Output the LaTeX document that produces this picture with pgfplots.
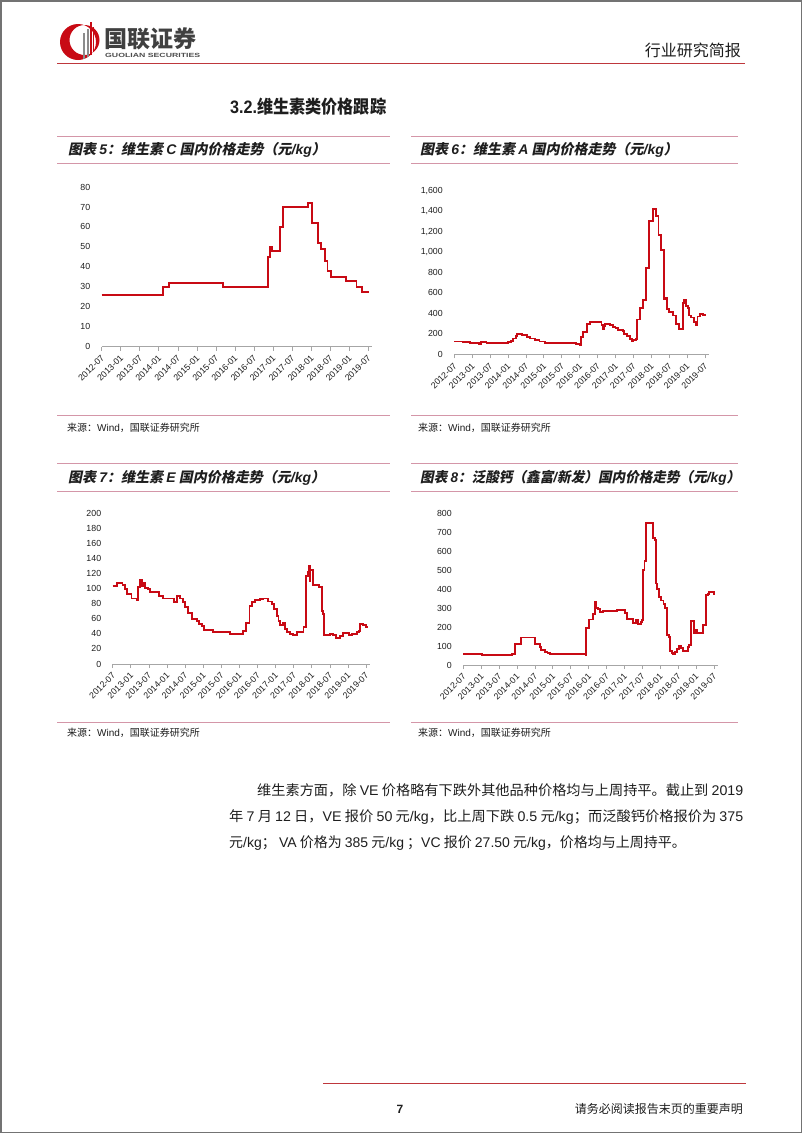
\documentclass[border=0pt]{standalone}
\usepackage{pgfplots}
\pgfplotsset{compat=1.18}
\usepackage{fontspec}
\usepackage{graphicx}
\setmainfont{Liberation Sans}
\newfontfamily\cjk{Noto Sans CJK SC}
\newfontfamily\cjkt[UprightFeatures={FakeSlant=0.2}, BoldFeatures={FakeSlant=0.2}]{Noto Sans CJK SC}
\newcommand\lat[1]{{\rmfamily #1}}
\newcommand\lati[1]{{\rmfamily\itshape #1}}
\definecolor{vred}{RGB}{200,10,20}
\definecolor{hred}{RGB}{190,55,60}
\definecolor{pinkline}{RGB}{212,150,168}
\definecolor{txt}{RGB}{30,30,30}

\pgfplotsset{
 vit/.style={
  scale only axis, anchor=south west,
  xmin=2012.5, xmax=2019.6, ymin=0, enlargelimits=false,
  axis x line*=bottom, axis y line*=left,
  y axis line style={draw=none},
  x axis line style={draw=black!35, line width=0.7pt},
  xtick={2012.5,2013,2013.5,2014,2014.5,2015,2015.5,2016,2016.5,2017,2017.5,2018,2018.5,2019,2019.5},
  xticklabels={2012-07,2013-01,2013-07,2014-01,2014-07,2015-01,2015-07,2016-01,2016-07,2017-01,2017-07,2018-01,2018-07,2019-01,2019-07},
  tick align=outside,
  xtick style={draw=black!35, line width=0.7pt},
  ytick style={draw=none},
  major tick length=4pt,
  tick label style={font=\fontsize{8.8}{10}\selectfont, text=txt},
  xticklabel style={rotate=45, anchor=east, inner sep=1pt, xshift=-2.5pt, yshift=-5pt},
  yticklabel style={xshift=-4pt, /pgf/number format/assume math mode=true, /pgf/number format/1000 sep={,}},
  scaled y ticks=false,
  clip=false,
 },
}

\begin{document}
\begin{tikzpicture}[x=1pt,y=1pt]
\useasboundingbox (0,0) rectangle (802,-1133);
\fill[white] (0,0) rectangle (802,-1133);
\draw[black!55, line width=1.5pt] (0.75,-0.75) rectangle (801.25,-1132.25);

% logo
\fill[vred, even odd rule] (78,-42) circle (18pt) (84.5,-40) circle (15pt);
\fill[black!45] (82.5,-59) rectangle (84.5,-33);
\fill[black!45] (86.5,-57) rectangle (88.5,-29);
\fill[vred] (90,-55) rectangle (91.6,-22);
\fill[vred] (93,-52) rectangle (94.4,-27);
\node[anchor=west, inner sep=0, font=\fontsize{23}{25}\selectfont\cjk\bfseries, text=black!75] at (104,-39) {国联证券};
\node[anchor=west, inner sep=0, font=\fontsize{6}{7}\selectfont\bfseries, text=black!70] at (105,-55) {\resizebox{95pt}{\height}{GUOLIAN SECURITIES}};
\node[anchor=east, inner sep=0, font=\fontsize{16}{18}\selectfont\cjk, text=txt] at (741,-50) {行业研究简报};
\draw[hred, line width=1.3pt] (57,-63.5) -- (745,-63.5);

% heading
\node[anchor=west, inner sep=0, font=\fontsize{18}{20}\selectfont\bfseries, text=txt] at (230,-107) {\resizebox{156pt}{\height}{3.2.{\cjk 维生素类价格跟踪}}};

% title frames
\foreach \xa/\xb in {57/390, 411/738} {
  \draw[pinkline, line width=0.9pt] (\xa,-136.7) -- (\xb,-136.7);
  \draw[pinkline, line width=0.9pt] (\xa,-163.3) -- (\xb,-163.3);
  \draw[pinkline, line width=0.9pt] (\xa,-415.7) -- (\xb,-415.7);
  \draw[pinkline, line width=0.9pt] (\xa,-463.3) -- (\xb,-463.3);
  \draw[pinkline, line width=0.9pt] (\xa,-491) -- (\xb,-491);
  \draw[pinkline, line width=0.9pt] (\xa,-722.3) -- (\xb,-722.3);
}
\node[anchor=west, inner sep=0, font=\fontsize{14}{16}\selectfont\cjkt\bfseries, text=txt] at (68,-150) {图表 \lati{5}：维生素 \lati{C} 国内价格走势（元\lati{/kg}）};
\node[anchor=west, inner sep=0, font=\fontsize{14}{16}\selectfont\cjkt\bfseries, text=txt] at (420,-150) {图表 \lati{6}：维生素 \lati{A} 国内价格走势（元\lati{/kg}）};
\node[anchor=west, inner sep=0, font=\fontsize{14}{16}\selectfont\cjkt\bfseries, text=txt] at (68,-478) {图表 \lati{7}：维生素 \lati{E} 国内价格走势（元\lati{/kg}）};
\node[anchor=west, inner sep=0, font=\fontsize{14}{16}\selectfont\cjkt\bfseries, text=txt] at (420,-478) {\resizebox{320pt}{\height}{图表 \lati{8}：泛酸钙（鑫富\lati{/}新发）国内价格走势（元\lati{/kg}）}};

\foreach \xs/\ys in {67/428, 418/428, 67/733, 418/733} {
  \node[anchor=west, inner sep=0, font=\fontsize{10}{12}\selectfont\cjk, text=txt] at (\xs,-\ys) {来源：\lat{Wind}，国联证券研究所};
}

% body text
\node[anchor=west, inner sep=0, font=\fontsize{14}{16}\selectfont\cjk, text=txt] at (257,-790) {\resizebox{486pt}{\height}{维生素方面，除 \lat{VE} 价格略有下跌外其他品种价格均与上周持平。截止到 \lat{2019}}};
\node[anchor=west, inner sep=0, font=\fontsize{14}{16}\selectfont\cjk, text=txt] at (229,-817) {\resizebox{514pt}{\height}{年 \lat{7} 月 \lat{12} 日，\lat{VE} 报价 \lat{50} 元\lat{/kg}，比上周下跌 \lat{0.5} 元\lat{/kg}；而泛酸钙价格报价为 \lat{375}}};
\node[anchor=west, inner sep=0, font=\fontsize{14}{16}\selectfont\cjk, text=txt] at (229,-843) {元\lat{/kg}；\ \lat{VA} 价格为 \lat{385} 元\lat{/kg} ；\lat{VC} 报价 \lat{27.50} 元\lat{/kg}，价格均与上周持平。};

% footer
\draw[hred, line width=1.3pt] (323,-1083.3) -- (746,-1083.3);
\node[inner sep=0, font=\fontsize{12}{14}\selectfont\bfseries, text=txt] at (400,-1109) {7};
\node[anchor=east, inner sep=0, font=\fontsize{12}{14}\selectfont\cjk, text=txt] at (743,-1109) {请务必阅读报告末页的重要声明};

% chart 5: VC
\begin{axis}[vit, at={(101.7pt,-346.7pt)}, width=270.4pt, height=159.7pt, ymax=80, ytick={0,10,...,80}]
\addplot[const plot, draw=vred, line width=1.9pt, mark=none] coordinates {(2012.50,26) (2014.10,30) (2014.27,32) (2015.68,30) (2016.86,45) (2016.92,50) (2016.98,48) (2017.18,60) (2017.27,70) (2017.92,72) (2018.02,62) (2018.19,52) (2018.27,49) (2018.36,43) (2018.43,38) (2018.52,35) (2018.91,33) (2019.19,30) (2019.34,27.5) (2019.53,27.5)};
\end{axis}

% chart 6: VA
\begin{axis}[vit, at={(454.3pt,-354.3pt)}, width=254.3pt, height=163.6pt, ymax=1600, ytick={0,200,...,1600}]
\addplot[const plot, draw=vred, line width=1.9pt, mark=none] coordinates {(2012.50,125) (2012.75,118) (2012.95,112) (2013.20,105) (2013.25,118) (2013.40,113) (2013.80,112) (2014.00,118) (2014.08,130) (2014.15,155) (2014.22,175) (2014.26,200) (2014.38,190) (2014.52,165) (2014.62,155) (2014.75,140) (2014.88,125) (2015.03,112) (2015.73,108) (2015.90,100) (2016.01,95) (2016.03,165) (2016.10,215) (2016.20,300) (2016.28,320) (2016.61,290) (2016.65,250) (2016.68,280) (2016.72,300) (2016.85,290) (2016.93,270) (2017.00,255) (2017.07,240) (2017.22,230) (2017.25,200) (2017.32,180) (2017.40,150) (2017.45,125) (2017.50,140) (2017.57,150) (2017.61,340) (2017.68,450) (2017.76,530) (2017.85,840) (2017.94,1300) (2018.04,1420) (2018.12,1350) (2018.20,1170) (2018.27,1020) (2018.36,540) (2018.39,550) (2018.43,440) (2018.50,410) (2018.61,380) (2018.69,300) (2018.77,250) (2018.88,500) (2018.92,530) (2018.97,470) (2019.02,450) (2019.06,380) (2019.12,360) (2019.19,320) (2019.25,290) (2019.29,370) (2019.36,390) (2019.45,385) (2019.53,385)};
\end{axis}

% chart 7: VE
\begin{axis}[vit, at={(112.7pt,-664pt)}, width=257pt, height=150.7pt, ymax=200, ytick={0,20,...,200}]
\addplot[const plot, draw=vred, line width=1.9pt, mark=none] coordinates {(2012.50,104) (2012.61,108) (2012.77,105) (2012.84,100) (2012.90,93) (2013.02,87) (2013.18,85) (2013.21,102) (2013.26,112) (2013.30,103) (2013.35,107) (2013.39,101) (2013.48,99) (2013.53,95) (2013.79,90) (2013.90,87) (2014.19,82) (2014.27,90) (2014.36,87) (2014.43,82) (2014.49,76) (2014.59,68) (2014.68,60) (2014.82,57) (2014.88,53) (2014.96,50) (2015.02,45) (2015.28,43) (2015.60,42) (2015.74,40) (2016.09,44) (2016.18,54) (2016.28,77) (2016.34,82) (2016.43,85) (2016.57,86) (2016.66,87) (2016.80,83) (2016.89,80) (2016.96,73) (2017.03,64) (2017.08,57) (2017.12,52) (2017.20,55) (2017.26,47) (2017.32,43) (2017.39,40) (2017.48,38) (2017.60,42) (2017.77,49) (2017.84,117) (2017.90,122) (2017.92,130) (2017.95,110) (2017.96,125) (2018.04,105) (2018.21,102) (2018.27,70) (2018.31,66) (2018.34,38) (2018.50,40) (2018.58,38) (2018.67,35) (2018.78,37) (2018.85,41) (2019.03,38) (2019.10,40) (2019.24,42) (2019.30,44) (2019.33,53) (2019.42,52) (2019.49,49) (2019.53,50)};
\end{axis}

% chart 8: calcium pantothenate
\begin{axis}[vit, at={(463.3pt,-665pt)}, width=254.3pt, height=151.7pt, ymax=800, ytick={0,100,...,800}]
\addplot[const plot, draw=vred, line width=1.9pt, mark=none] coordinates {(2012.50,56) (2013.01,52) (2013.71,55) (2013.80,52) (2013.85,58) (2013.90,60) (2013.94,110) (2014.11,145) (2014.50,110) (2014.64,95) (2014.68,80) (2014.78,70) (2014.85,65) (2014.92,58) (2014.99,56) (2015.92,55) (2015.93,195) (2016.02,240) (2016.11,270) (2016.18,330) (2016.21,300) (2016.27,295) (2016.32,280) (2016.39,285) (2016.78,290) (2017.02,275) (2017.08,245) (2017.23,220) (2017.32,235) (2017.39,215) (2017.46,225) (2017.49,235) (2017.51,500) (2017.56,550) (2017.60,600) (2017.61,750) (2017.79,670) (2017.85,660) (2017.87,430) (2017.92,400) (2017.96,360) (2018.02,340) (2018.09,320) (2018.13,300) (2018.19,160) (2018.25,150) (2018.27,75) (2018.33,65) (2018.36,60) (2018.40,70) (2018.46,85) (2018.51,100) (2018.57,90) (2018.63,75) (2018.78,95) (2018.81,105) (2018.86,230) (2018.94,170) (2018.99,185) (2019.03,170) (2019.18,210) (2019.28,370) (2019.34,375) (2019.37,385) (2019.50,375) (2019.53,375)};
\end{axis}
\end{tikzpicture}
\end{document}
